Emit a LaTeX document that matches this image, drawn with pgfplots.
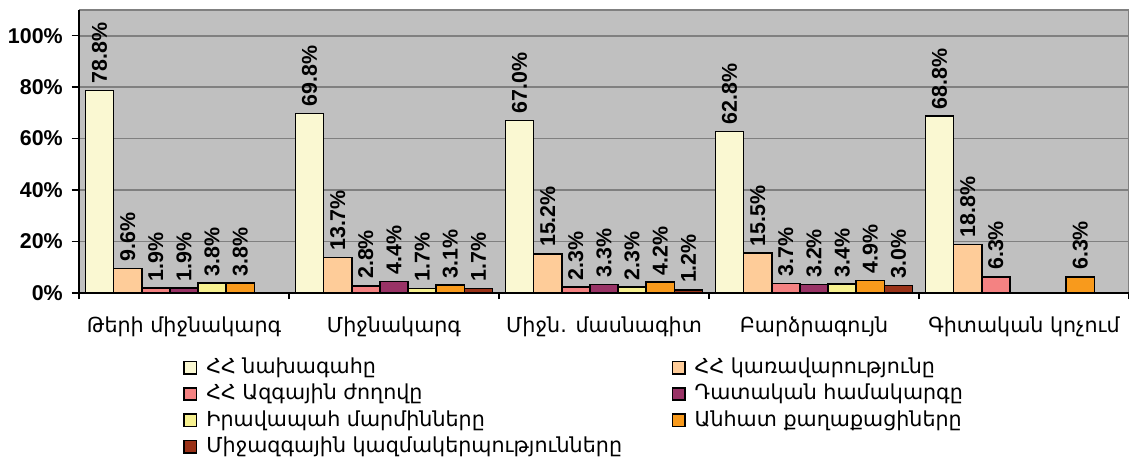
\documentclass[border=0pt]{standalone}
\usepackage{pgfplots}
\pgfplotsset{compat=1.18}
\usepackage{fontspec}
\setmainfont{Liberation Sans}
\newfontfamily\armfont{DejaVu Sans}

\definecolor{c1}{HTML}{FAF8D2}
\definecolor{c2}{HTML}{FECC99}
\definecolor{c3}{HTML}{F48282}
\definecolor{c4}{HTML}{993366}
\definecolor{c5}{HTML}{F7F190}
\definecolor{c6}{HTML}{F89A1C}
\definecolor{c7}{HTML}{9A3218}
\definecolor{bg}{HTML}{C0C0C0}
\definecolor{gridc}{HTML}{808080}

\pgfplotsset{
    sqleg/.style={legend image code/.code={
        \draw[##1, line width=0.6pt] (0pt,-2.5pt) rectangle (5pt,2.5pt);
        \path (6.6pt,0pt);}},
    bars/.style={draw=black, line width=0.6pt, fill=#1, sqleg},
}

\begin{document}
\begin{tikzpicture}
    \begin{axis}[
            scale only axis,
            width=421.9pt,
            height=113.7pt,
            ybar=0pt,
            bar width=0.134,
            xmin=-0.5, xmax=4.5,
            ymin=0, ymax=110,
            clip=false,
            xtick={0,1,2,3,4},
            xticklabels={Թերի միջնակարգ, Միջնակարգ, Միջն. մասնագիտ, Բարձրագույն, Գիտական կոչում},
            major x tick style={draw=none},
            minor xtick={-0.5,0.5,1.5,2.5,3.5,4.5},
            ytick={0,20,40,60,80,100},
            yticklabel={\pgfmathprintnumber{\tick}\%},
            /pgf/number format/assume math mode=true,
            tick align=outside,
            tick pos=left,
            major tick length=3pt,
            minor tick length=2.5pt,
            tick style={black, line width=0.6pt},
            ymajorgrids=true,
            major grid style={draw=gridc, line width=0.7pt},
            axis background/.style={fill=bg},
            axis line style={draw=none},
            yticklabel style={font=\bfseries\fontsize{8.6}{10}\selectfont},
            xticklabel style={font=\armfont\fontsize{8.3}{10}\selectfont, yshift=-3pt},
            nodes near coords={\pgfmathprintnumber[fixed,fixed zerofill,precision=1]{\pgfplotspointmeta}\%},
            every node near coord/.append style={rotate=90, anchor=west,
                font=\bfseries\fontsize{8.6}{10}\selectfont, inner sep=2.5pt},
            legend columns=2,
            legend cell align=left,
            legend style={
                    draw=none, fill=none,
                    at={(0.099,-0.21)}, anchor=north west,
                    font=\armfont\fontsize{8.3}{10}\selectfont,
                    inner sep=0pt,
                    row sep=-1.2pt,
                    /tikz/column 2/.style={column sep=18pt},
                },
        ]

        \addplot[bars=c1] coordinates {(0,78.8) (1,69.8) (2,67.0) (3,62.8) (4,68.8)};
        \addplot[bars=c2] coordinates {(0,9.6) (1,13.7) (2,15.2) (3,15.5) (4,18.8)};
        \addplot[bars=c3] coordinates {(0,1.9) (1,2.8) (2,2.3) (3,3.7) (4,6.3)};
        \addplot[bars=c4] coordinates {(0,1.9) (1,4.4) (2,3.3) (3,3.2)};
        \addplot[bars=c5] coordinates {(0,3.8) (1,1.7) (2,2.3) (3,3.4)};
        \addplot[bars=c6] coordinates {(0,3.8) (1,3.1) (2,4.2) (3,4.9) (4,6.3)};
        \addplot[bars=c7] coordinates {(1,1.7) (2,1.2) (3,3.0)};

        \legend{ՀՀ նախագահը, ՀՀ կառավարությունը, ՀՀ Ազգային ժողովը, Դատական համակարգը, Իրավապահ մարմինները, Անհատ քաղաքացիները, Միջազգային կազմակերպությունները}

        \draw [gridc, line width=0.7pt] (rel axis cs:0,1) -- (rel axis cs:1,1) -- (rel axis cs:1,0);
        \draw [black, line width=0.8pt] (rel axis cs:0,1) -- (rel axis cs:0,0) -- (rel axis cs:1,0);
    \end{axis}
    \pgfresetboundingbox
    \useasboundingbox ([shift={(-31.74pt,-65.8pt)}]current axis.south west) rectangle ([shift={(0pt,4.02pt)}]current axis.north east);
\end{tikzpicture}
\end{document}
